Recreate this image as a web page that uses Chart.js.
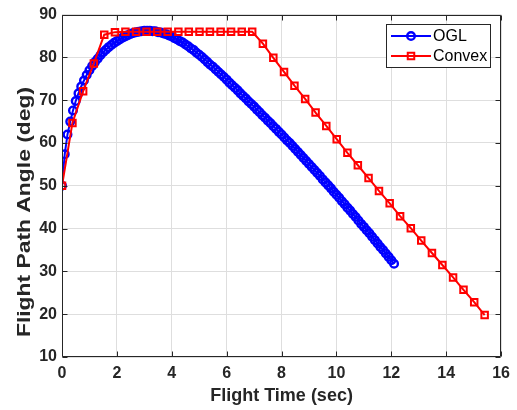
<!DOCTYPE html>
<html>
<head>
<meta charset="utf-8">
<script src="https://cdn.jsdelivr.net/npm/chart.js@4.4.1/dist/chart.umd.min.js"></script>
<style>
  html, body { margin: 0; padding: 0; background: #fff; }
  canvas { display: block; }
</style>
</head>
<body>
<canvas id="chart" width="517" height="410"></canvas>
<script>
// data
const oglTime = [
  0, 0.1, 0.2, 0.3, 0.4, 0.5, 0.6, 0.7, 0.8, 0.9,
  1.0, 1.1, 1.2, 1.3, 1.4, 1.5, 1.6, 1.7, 1.8, 1.9,
  2.0, 2.1, 2.2, 2.3, 2.4, 2.5, 2.6, 2.7, 2.8, 2.9,
  3.0, 3.1, 3.2, 3.3, 3.4, 3.5, 3.6, 3.7, 3.8, 3.9,
  4.0, 4.1, 4.2, 4.3, 4.4, 4.5, 4.6, 4.7, 4.8, 4.9,
  5.0, 5.1, 5.2, 5.3, 5.4, 5.5, 5.6, 5.7, 5.8, 5.9,
  6.0, 6.1, 6.2, 6.3, 6.4, 6.5, 6.6, 6.7, 6.8, 6.9,
  7.0, 7.1, 7.2, 7.3, 7.4, 7.5, 7.6, 7.7, 7.8, 7.9,
  8.0, 8.1, 8.2, 8.3, 8.4, 8.5, 8.6, 8.7, 8.8, 8.9,
  9.0, 9.1, 9.2, 9.3, 9.4, 9.5, 9.6, 9.7, 9.8, 9.9,
  10.0, 10.1, 10.2, 10.3, 10.4, 10.5, 10.6, 10.7, 10.8, 10.9,
  11.0, 11.1, 11.2, 11.3, 11.4, 11.5, 11.6, 11.7, 11.8, 11.9,
  12.0, 12.1
]
const oglAngle = [
  50.0, 57.4, 62.0, 65.0, 67.6, 69.8, 71.6, 73.2, 74.6, 75.9,
  77.0, 78.0, 78.9, 79.7, 80.5, 81.2, 81.8, 82.4, 82.9, 83.4,
  83.8, 84.2, 84.6, 84.9, 85.2, 85.5, 85.7, 85.9, 86.0, 86.1,
  86.2, 86.2, 86.2, 86.1, 86.1, 85.9, 85.8, 85.6, 85.4, 85.1,
  84.9, 84.5, 84.2, 83.8, 83.5, 83.0, 82.6, 82.1, 81.7, 81.1,
  80.6, 80.1, 79.5, 78.9, 78.3, 77.8, 77.2, 76.6, 76.0, 75.4,
  74.8, 74.1, 73.5, 72.9, 72.3, 71.6, 71.0, 70.4, 69.7, 69.1,
  68.5, 67.8, 67.2, 66.5, 65.9, 65.2, 64.6, 63.9, 63.3, 62.6,
  62.0, 61.3, 60.6, 60.0, 59.3, 58.6, 57.9, 57.2, 56.5, 55.8,
  55.1, 54.4, 53.7, 53.0, 52.3, 51.5, 50.8, 50.1, 49.4, 48.6,
  47.9, 47.2, 46.4, 45.7, 44.9, 44.2, 43.4, 42.7, 41.9, 41.1,
  40.4, 39.6, 38.9, 38.1, 37.3, 36.5, 35.7, 35.0, 34.2, 33.4,
  32.6, 31.8
]

const convexTime = [
  0, 0.38, 0.77, 1.16, 1.54, 1.93, 2.31, 2.70, 3.08, 3.47,
  3.85, 4.24, 4.62, 5.01, 5.39, 5.78, 6.16, 6.55, 6.93, 7.32,
  7.70, 8.09, 8.47, 8.86, 9.24, 9.63, 10.01, 10.40, 10.78, 11.17,
  11.55, 11.94, 12.32, 12.71, 13.09, 13.48, 13.86, 14.25, 14.63, 15.02,
  15.40
]
const convexAngle = [
  50.0, 64.7, 72.1, 78.6, 85.3, 85.9, 86.0, 86.0, 86.0, 86.0,
  86.0, 86.0, 86.0, 86.0, 86.0, 86.0, 86.0, 86.0, 86.0, 83.2,
  79.9, 76.6, 73.4, 70.3, 67.1, 64.0, 60.9, 57.7, 54.8, 51.8,
  48.8, 45.9, 42.9, 40.1, 37.2, 34.3, 31.5, 28.6, 25.7, 22.8,
  19.8
]

const xTicks = [0, 2, 4, 6, 8, 10, 12, 14, 16]
const yTicks = [10, 20, 30, 40, 50, 60, 70, 80, 90]

const xTitle = 'Flight Time (sec)'
const yTitle = 'Flight Path Angle (deg)'

const FONT = "'Liberation Sans', Arial, Helvetica, sans-serif"
const AXIS_COLOR = '#262626'
const GRID_COLOR = '#dedede'

const toPoints = (xs, ys) => xs.map((x, i) => ({ x: x, y: ys[i] }))

// box, inward ticks and axis titles like matlab
const axesPlugin = {
    id: 'axesPlugin',
    afterDatasetsDraw(chart) {
        const { ctx, chartArea: a, scales } = chart
        const L = Math.round(a.left) + 0.5
        const R = Math.round(a.right) - 0.5
        const T = Math.round(a.top) + 0.5
        const B = Math.round(a.bottom) - 0.5
        const tl = 5
        ctx.save()
        ctx.strokeStyle = AXIS_COLOR
        ctx.lineWidth = 1
        ctx.beginPath()
        ctx.rect(L, T, R - L, B - T)
        xTicks.forEach(v => {
            const x = Math.round(scales.x.getPixelForValue(v)) + 0.5
            ctx.moveTo(x, B); ctx.lineTo(x, B - tl)
            ctx.moveTo(x, T); ctx.lineTo(x, T + tl)
        })
        yTicks.forEach(v => {
            const y = Math.round(scales.y.getPixelForValue(v)) + 0.5
            ctx.moveTo(L, y); ctx.lineTo(L + tl, y)
            ctx.moveTo(R, y); ctx.lineTo(R - tl, y)
        })
        ctx.stroke()

        ctx.fillStyle = AXIS_COLOR
        ctx.font = 'bold 18px ' + FONT
        ctx.textAlign = 'center'
        ctx.textBaseline = 'middle'
        ctx.fillText(xTitle, (a.left + a.right) / 2, 396)

        ctx.translate(25, 212)
        ctx.rotate(-Math.PI / 2)
        ctx.scale(1.27, 1)
        ctx.fillText(yTitle, 0, 0)
        ctx.restore()
    },
    afterDraw(chart) {
        // legend box
        const ctx = chart.ctx
        const bx = 386.5, by = 24.5, bw = 104, bh = 43
        ctx.save()
        ctx.fillStyle = '#fff'
        ctx.fillRect(bx, by, bw, bh)
        ctx.strokeStyle = AXIS_COLOR
        ctx.lineWidth = 1
        ctx.strokeRect(bx, by, bw, bh)
        const rows = [36, 56]
        chart.data.datasets.forEach((ds, i) => {
            const y = rows[i]
            ctx.strokeStyle = ds.borderColor
            ctx.lineWidth = 2
            ctx.beginPath()
            ctx.moveTo(391, y); ctx.lineTo(431, y)
            ctx.stroke()
            ctx.fillStyle = 'rgba(0,0,0,0)'
            ctx.lineWidth = ds.pointBorderWidth
            Chart.helpers.drawPoint(ctx, {
                pointStyle: ds.pointStyle,
                radius: ds.pointRadius,
                borderWidth: ds.pointBorderWidth,
                rotation: 0
            }, 411, y)
            ctx.fillStyle = '#000'
            ctx.font = '16px ' + FONT
            ctx.textAlign = 'left'
            ctx.textBaseline = 'middle'
            ctx.fillText(ds.label, 433, y + 1)
        })
        ctx.restore()
    }
}

const ctx = document.getElementById('chart').getContext('2d')

const myChart = new Chart(ctx, {
    type: 'scatter',
    data: {
        datasets: [{
            label: 'OGL',
            data: toPoints(oglTime, oglAngle),
            showLine: true,
            borderColor: '#0000ff',
            borderWidth: 2,
            pointStyle: 'circle',
            pointRadius: 3.8,
            pointBorderWidth: 2.4,
            pointBorderColor: '#0000ff',
            pointBackgroundColor: 'rgba(0,0,0,0)',
            order: 2
        }, {
            label: 'Convex',
            data: toPoints(convexTime, convexAngle),
            showLine: true,
            borderColor: '#ff0000',
            borderWidth: 2,
            pointStyle: 'rect',
            pointRadius: 4.6,
            pointBorderWidth: 2,
            pointBorderColor: '#ff0000',
            pointBackgroundColor: 'rgba(0,0,0,0)',
            order: 1
        }]
    },
    options: {
        responsive: false,
        animation: false,
        devicePixelRatio: 1,
        layout: { padding: { top: 13, right: 15, left: 0, bottom: 0 } },
        plugins: {
            legend: { display: false },
            tooltip: { enabled: false }
        },
        elements: { line: { tension: 0 } },
        scales: {
            x: {
                type: 'linear',
                min: 0,
                max: 16,
                afterFit: s => { s.height = 53 },
                afterBuildTicks: s => { s.ticks = xTicks.map(v => ({ value: v })) },
                ticks: {
                    color: AXIS_COLOR,
                    font: { family: FONT, size: 16, weight: 'bold' },
                    padding: 7,
                    maxRotation: 0
                },
                grid: { color: GRID_COLOR, drawTicks: false },
                border: { display: false }
            },
            y: {
                type: 'linear',
                min: 10,
                max: 90,
                afterFit: s => { s.width = 62 },
                afterBuildTicks: s => { s.ticks = yTicks.map(v => ({ value: v })) },
                ticks: {
                    color: AXIS_COLOR,
                    font: { family: FONT, size: 16, weight: 'bold' },
                    padding: 5
                },
                grid: { color: GRID_COLOR, drawTicks: false },
                border: { display: false }
            }
        }
    },
    plugins: [axesPlugin]
});
</script>
</body>
</html>
